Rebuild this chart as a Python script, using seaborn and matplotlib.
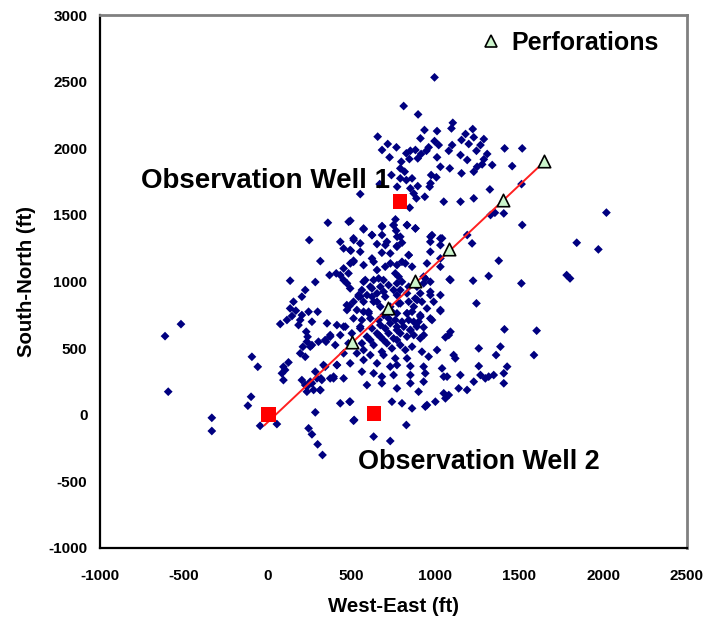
import matplotlib
matplotlib.use('Agg')
import matplotlib.pyplot as plt
from matplotlib.lines import Line2D
import seaborn as sns
import pandas as pd

# microseismic events (ft)
event_x = [
    # west / south-west scatter
    -94, -59, -612, -517, -593, -333, -333, -99, -118, -45, 55, 284, 244, 264, 298, 327,
    248, 314, 134, 284, 369, 224, 204, 154, 134, 168, 145, 115, 75, 244, 298, 194, 184,
    264, 230, 238, 354, 348, 264, 210, 194, 224, 124, 94, 85, 94, 204, 224, 234, 264,
    284, 318, 314, 343,
    234, 254, 303, 343, 373, 254, 294, 323, 234, 274, 313, 373, 393, 413, 333, 104, 488, 516,
    359, 204, 433, 453, 473, 512, 496, 542, 488,
    # northern cluster
    995, 811, 897, 1104, 1096, 935, 1010, 1223, 1180, 656, 911, 1229, 1289, 995, 1156, 716,
    768, 682, 1020, 960, 1100, 1199, 1269, 1413, 1518, 851, 881, 947, 827, 915, 1080, 1150,
    1245, 1309, 727, 845, 895, 1010, 1190, 1289, 797, 1279, 1339, 1458, 1030, 1086, 1249,
    817, 791, 738, 975, 1156, 1229, 791, 827, 861, 1006, 971, 668, 772, 895, 851, 966, 552,
    1325, 1514, 871, 937, 887, 1050, 1150, 1229, 847, 1408, 1329, 1355, 493, 762, 751, 831,
    572, 682, 766, 881, 1518, 622, 682, 1190, 971, 1040, 512, 772,
    # central cloud
    433, 492, 552, 652, 711, 771, 801, 841, 731, 681, 512, 572, 622, 970, 1030, 1219, 1378,
    1030, 453, 409, 482, 652, 701, 771, 821, 861, 761, 632, 572, 691, 801, 930, 970, 930,
    1085, 1225, 1318, 1513, 492, 562, 592, 652, 751, 831, 880, 910, 970, 1245, 472, 572,
    632, 791, 871, 950, 1030, 532, 602, 771, 831, 910, 970, 562, 662, 721, 801, 871, 413,
    463, 552, 622, 701, 771, 851, 930, 1080, 1412, 373, 433, 592, 672, 751, 831, 910, 1060,
    403, 562, 632, 711, 791, 861, 1010, 1259, 1388, 453, 532, 612, 681, 761, 920, 960, 1109,
    1362, 413, 492, 572, 652, 731, 771, 1119, 851, 930, 1040, 1259, 1428, 562, 681, 632, 751,
    851, 940, 1050, 1149, 1269, 1318, 1348, 1408, 393, 453, 592, 681, 851, 930, 1070, 1139,
    1189, 1229, 1298, 1408, 771, 900, 1050, 1080, 433, 492, 741, 801, 861, 940, 950, 1000,
    1060, 512, 827, 632, 731,
    612, 672, 721, 771, 841, 890, 542, 622, 701, 771, 841, 920, 990, 512, 672, 731, 572, 691,
    741, 861, 512, 612, 761, 841, 900, 672, 731, 811, 890, 502, 652, 721, 791, 871, 612, 691,
    771, 482, 741, 821, 572, 691, 831,
    483, 572, 682, 751, 831, 881, 513, 622, 791, 980, 1030, 702, 771, 453, 552, 841, 970, 493,
    632, 732, 801, 950, 1030, 1090, 582, 662, 781, 940, 622, 692, 791, 970, 1030, 552, 652,
    781, 891, 1030, 473, 602, 831, 911, 980, 1090, 552, 771, 851, 662, 931, 453,
    # far east
    1843, 1972, 1783, 1803, 1604, 1588, 2020,
]
event_y = [
    435, 360, 590, 680, 173, -23, -122, 135, 68, -83, -70, 18, -102, -147, -222, -302,
    1311, 1153, 1006, 996, 1048, 936, 886, 848, 798, 781, 741, 711, 681, 773, 773, 711, 673,
    698, 623, 585, 686, 548, 523, 510, 461, 435, 393, 360, 311, 260, 260, 223, 173, 236,
    323, 273, 185, 360,
    548, 511, 548, 561, 598, 248, 273, 261, 211, 186, 186, 273, 273, 373, 373, 336, 98, -39,
    1441, 748, 1048, 1011, 986, 1148, 1231, 886, 816,
    2532, 2317, 2254, 2191, 2149, 2137, 2129, 2144, 2107, 2087, 2074, 2082, 2069, 2054, 2062, 2032,
    2007, 1987, 2024, 2007, 2024, 2032, 2024, 1999, 1999, 1981, 1987, 1981, 1962, 1957, 1981, 1949,
    1981, 1957, 1932, 1919, 1924, 1932, 1912, 1917, 1899, 1879, 1874, 1866, 1861, 1849, 1861,
    1824, 1849, 1799, 1799, 1812, 1824, 1774, 1761, 1774, 1782, 1737, 1731, 1711, 1716, 1699, 1711, 1656,
    1691, 1731, 1661, 1636, 1624, 1599, 1599, 1624, 1554, 1511, 1499, 1516, 1456, 1466, 1424, 1424,
    1391, 1416, 1381, 1399, 1424, 1349, 1349, 1349, 1336, 1324, 1324, 1336,
    1298, 1236, 1286, 1281, 1298, 1266, 1291, 1198, 1211, 1216, 1156, 1123, 1173, 1298, 1273, 1286, 1156,
    1173, 1098, 1061, 1061, 1086, 1111, 1123, 1136, 1111, 1061, 1011, 998, 1011, 998, 1036, 998, 986,
    1016, 1006, 1041, 986, 948, 936, 898, 911, 936, 911, 873, 911, 898, 836, 823, 848,
    848, 836, 811, 798, 778, 786, 773, 761, 761, 748, 723, 711, 711, 723, 698, 698, 673,
    661, 648, 648, 648, 636, 636, 656, 598, 641, 586, 598, 586, 586, 573, 586, 573, 581,
    523, 536, 523, 536, 523, 511, 486, 498, 511, 461, 461, 448, 473, 423, 473, 436, 448,
    448, 373, 386, 411, 386, 361, 373, 423, 365, 361, 348, 365, 361, 323, 286, 311, 298,
    298, 311, 286, 298, 298, 286, 298, 311, 286, 273, 223, 236, 236, 248, 286, 198,
    186, 248, 273, 236, 198, 173, 161, 148, 86, 98, 98, 86, 48, 61, 73, 98,
    123, -45, -77, -164, -197,
    961, 961, 973, 986, 961, 961, 898, 886, 886, 898, 848, 848, 848, 848, 811, 811, 773, 748,
    773, 773, 723, 723, 711, 711, 698, 673, 686, 661, 661, 611, 611, 611, 611, 598, 561, 561,
    561, 536, 498, 486, 486, 448, 423,
    1448, 1398, 1411, 1423, 1423, 1398, 1311, 1348, 1336, 1348, 1323, 1273, 1261, 1248, 1223, 1198, 1223, 1136,
    1148, 1136, 1148, 1136, 1111, 1011, 1011, 1023, 1036, 1023, 948, 923, 936, 923, 898, 886, 848,
    836, 861, 786, 786, 761, 761, 736, 711, 623, 661, 661, 636, 598, 598, 661,
    1291, 1241, 1048, 1023, 631, 448, 1517,
]

# wells and perforations (ft)
well_x = [5, 635, 790]
well_y = [0, 10, 1600]
perf_x = [505, 720, 881, 1084, 1406, 1645]
perf_y = [545, 800, 1002, 1243, 1610, 1903]
traj_x = [-20, 1650]
traj_y = [-80, 1900]

events = pd.DataFrame({'x': event_x, 'y': event_y})
wells = pd.DataFrame({'x': well_x, 'y': well_y})
perfs = pd.DataFrame({'x': perf_x, 'y': perf_y})
traj = pd.DataFrame({'x': traj_x, 'y': traj_y})

sns.set_theme(style='white')
plt.rcParams['font.family'] = ['Liberation Sans', 'DejaVu Sans']
plt.rcParams['font.weight'] = 'bold'
plt.rcParams['axes.unicode_minus'] = False
plt.rcParams['text.color'] = 'black'
plt.rcParams['axes.labelcolor'] = 'black'
plt.rcParams['xtick.color'] = 'black'
plt.rcParams['ytick.color'] = 'black'

fig = plt.figure(figsize=(7.08, 6.23), dpi=100)
ax = fig.add_axes([0.1412, 0.1204, 0.829, 0.8555])

sns.scatterplot(data=events, x='x', y='y', marker='D', s=20, color='#000080',
                edgecolor='none', ax=ax, zorder=2)
sns.lineplot(data=traj, x='x', y='y', color='#ff2020', linewidth=1.4, ax=ax,
             sort=False, zorder=3)
sns.scatterplot(data=wells, x='x', y='y', marker='s', s=110, color='#ff0000',
                edgecolor='none', ax=ax, zorder=4)
sns.scatterplot(data=perfs, x='x', y='y', marker='^', s=80, color='#ccf5cc',
                edgecolor='black', linewidth=1.2, ax=ax, zorder=5)

ax.set_xlim(-1000, 2500)
ax.set_ylim(-1000, 3000)
ax.set_xticks(range(-1000, 2501, 500))
ax.set_yticks(range(-1000, 3001, 500))
ax.tick_params(axis='both', direction='out', length=5, width=1.2, color='black',
               labelsize=11, pad=4)
ax.tick_params(axis='x', pad=10)
for lab in ax.get_xticklabels() + ax.get_yticklabels():
    lab.set_fontweight('bold')

ax.set_xlabel('West-East (ft)', fontsize=14.7, fontweight='bold', labelpad=10)
ax.set_ylabel('South-North (ft)', fontsize=14.7, fontweight='bold', labelpad=9)

for side in ['left', 'bottom']:
    ax.spines[side].set_color('black')
    ax.spines[side].set_linewidth(1.6)
for side in ['right', 'top']:
    ax.spines[side].set_color('#808080')
    ax.spines[side].set_linewidth(2)

ax.text(-756, 1754, 'Observation Well 1', fontsize=20, fontweight='bold',
        ha='left', va='center')
ax.text(540, -355, 'Observation Well 2', fontsize=19.4, fontweight='bold',
        ha='left', va='center')

handle = Line2D([], [], marker='^', linestyle='none', markersize=9,
                markerfacecolor='#ccf5cc', markeredgecolor='black',
                markeredgewidth=1.2, label='Perforations')
ax.legend(handles=[handle], loc='upper left', bbox_to_anchor=(0.645, 0.97),
          frameon=False, handlelength=1.0, handletextpad=0.3, borderpad=0,
          borderaxespad=0, prop={'size': 18, 'weight': 'bold'})

fig.savefig('out.png', dpi=100)
